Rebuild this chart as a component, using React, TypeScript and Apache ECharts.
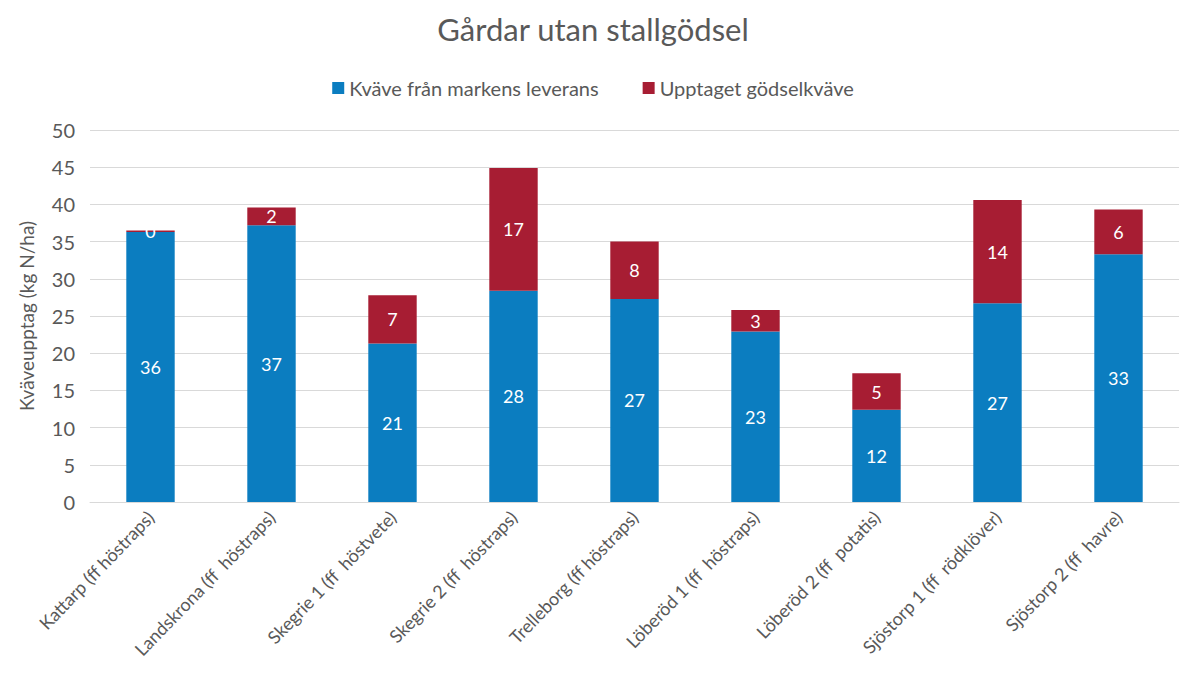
import React, { useEffect, useRef } from "react";
import * as echarts from "echarts";

const categories = [
  "Kattarp (ff höstraps)",
  "Landskrona (ff  höstraps)",
  "Skegrie 1 (ff  höstvete)",
  "Skegrie 2 (ff  höstraps)",
  "Trelleborg (ff höstraps)",
  "Löberöd 1 (ff  höstraps)",
  "Löberöd 2 (ff  potatis)",
  "Sjöstorp 1 (ff  rödklöver)",
  "Sjöstorp 2 (ff  havre)",
];
const markValues = [36.3, 37.2, 21.3, 28.4, 27.3, 22.9, 12.4, 26.7, 33.3];
const godselValues = [0.2, 2.4, 6.5, 16.5, 7.7, 2.9, 4.9, 13.9, 6.0];
const seriesNames = ["Kväve från markens leverans", "Upptaget gödselkväve"];
const colors = ["#0B7DC0", "#A71D33"];

const FONT = "Lato, 'Open Sans', sans-serif";
const GREY = "#595959";

export default function App() {
  const ref = useRef<HTMLDivElement>(null);
  useEffect(() => {
    document.body.style.margin = "0";
    const chart = echarts.init(ref.current!, null, { renderer: "svg" });
    const label = {
      show: true,
      position: "inside",
      color: "#ffffff",
      fontSize: 18,
      fontFamily: FONT,
      formatter: (p: any) => String(Math.round(p.value)),
    };
    chart.setOption({
      animation: false,
      backgroundColor: "#ffffff",
      title: {
        text: "Gårdar utan stallgödsel",
        left: "center",
        top: 8,
        textStyle: { fontSize: 31, fontWeight: "normal", color: GREY, fontFamily: FONT },
      },
      legend: {
        top: 73,
        left: "center",
        itemWidth: 12,
        itemHeight: 12,
        itemGap: 44,
        icon: "rect",
        textStyle: { fontSize: 20, color: GREY, fontFamily: FONT },
        data: seriesNames,
      },
      grid: { left: 90, right: 7, top: 130, bottom: 175, containLabel: false },
      xAxis: {
        type: "category",
        data: categories,
        axisLine: { lineStyle: { color: "#D9D9D9" } },
        axisTick: { show: false },
        axisLabel: {
          rotate: 46,
          interval: 0,
          fontSize: 18,
          color: GREY,
          fontFamily: FONT,
          margin: 12,
        },
      },
      yAxis: {
        type: "value",
        min: 0,
        max: 50,
        interval: 5,
        name: "Kväveupptag (kg N/ha)",
        nameLocation: "middle",
        nameGap: 54,
        nameTextStyle: { fontSize: 19, color: GREY, fontFamily: FONT },
        axisLine: { show: false },
        axisTick: { show: false },
        axisLabel: { fontSize: 20, color: GREY, fontFamily: FONT, margin: 15 },
        splitLine: { lineStyle: { color: "#D9D9D9" } },
      },
      series: [
        {
          name: seriesNames[0],
          type: "bar",
          stack: "total",
          barWidth: "40%",
          itemStyle: { color: colors[0] },
          label,
          data: markValues,
        },
        {
          name: seriesNames[1],
          type: "bar",
          stack: "total",
          barWidth: "40%",
          itemStyle: { color: colors[1] },
          label,
          data: godselValues,
        },
      ],
    });
    return () => chart.dispose();
  }, []);
  return <div ref={ref} style={{ width: 1186, height: 677 }} />;
}
